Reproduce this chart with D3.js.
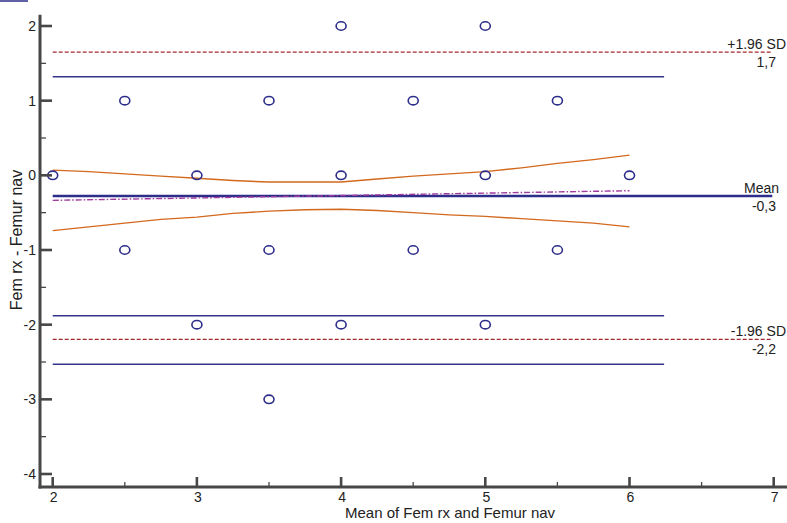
<!DOCTYPE html>
<html>
<head>
<meta charset="utf-8">
<script src="https://cdn.jsdelivr.net/npm/d3@7"></script>
<style>
  body { margin: 0; background: #fff; }
  text { font-family: "Liberation Sans", Arial, sans-serif; fill: #222; }
</style>
</head>
<body>
<div id="chart"></div>
<script>
// observations (mean of the two methods, difference)
const pointMeans = [2, 2.5, 2.5, 3, 3, 3.5, 3.5, 3.5, 4, 4, 4, 4.5, 4.5, 5, 5, 5, 5.5, 5.5, 6];
const pointDiffs = [0, 1, -1, 0, -2, 1, -1, -3, 2, 0, -2, 1, -1, 2, 0, -2, 1, -1, 0];

// limits of agreement
const meanDiff = -0.277;
const upperLoA = 1.65;
const lowerLoA = -2.197;
const loaCI = [1.32, -1.88, -2.53];   // confidence limit lines
const limitLabels = ['+1.96 SD', 'Mean', '-1.96 SD'];
const limitValues = ['1,7', '-0,3', '-2,2'];

// regression of difference on mean
const regX = [2, 6];
const regY = [-0.335, -0.206];

// orange confidence band of the regression
const bandX = [2, 2.25, 2.5, 2.75, 3, 3.25, 3.5, 3.75, 4, 4.25, 4.5, 4.75, 5, 5.25, 5.5, 5.75, 6];
const bandUpper = [0.07, 0.05, 0.02, -0.01, -0.04, -0.07, -0.09, -0.09, -0.09, -0.05, -0.01, 0.02, 0.05, 0.10, 0.16, 0.21, 0.27];
const bandLower = [-0.74, -0.69, -0.64, -0.59, -0.56, -0.51, -0.48, -0.46, -0.455, -0.47, -0.50, -0.53, -0.55, -0.58, -0.61, -0.64, -0.69];

const xTicks = [2, 3, 4, 5, 6, 7];
const yTicks = [2, 1, 0, -1, -2, -3, -4];

const W = 787, H = 523;
const axisColor = '#474747';
const navy = '#2d2d8a';

const x = d3.scaleLinear().domain([2, 7]).range([52.7, 773.7]);
const y = d3.scaleLinear().domain([2, -4]).range([26, 474]);
const x0 = 40, yBase = 487;

const svg = d3.select('#chart').append('svg')
  .attr('width', W)
  .attr('height', H);

// stray legend stub at the top-left corner
svg.append('line')
  .attr('x1', 0).attr('x2', 28).attr('y1', 1).attr('y2', 1)
  .attr('stroke', navy).attr('stroke-width', 1.5);

// confidence limit lines
svg.selectAll('.ci')
  .data(loaCI)
  .enter()
  .append('line')
  .attr('class', 'ci')
  .attr('x1', x(2)).attr('x2', x(6.24))
  .attr('y1', d => y(d)).attr('y2', d => y(d))
  .attr('stroke', '#35358c')
  .attr('stroke-width', 1.5);

// +/- 1.96 SD
svg.selectAll('.loa')
  .data([upperLoA, lowerLoA])
  .enter()
  .append('line')
  .attr('class', 'loa')
  .attr('x1', x(2)).attr('x2', x(6.99))
  .attr('y1', d => y(d)).attr('y2', d => y(d))
  .attr('stroke', '#a3282c')
  .attr('stroke-width', 1.3)
  .attr('stroke-dasharray', '4,2');

// mean
svg.append('line')
  .attr('x1', x(2)).attr('x2', x(6.99))
  .attr('y1', y(meanDiff)).attr('y2', y(meanDiff))
  .attr('stroke', navy)
  .attr('stroke-width', 2.6);

// regression line
svg.append('line')
  .attr('x1', x(regX[0])).attr('x2', x(regX[1]))
  .attr('y1', y(regY[0])).attr('y2', y(regY[1]))
  .attr('stroke', '#a03a9e')
  .attr('stroke-width', 1.4)
  .attr('stroke-dasharray', '6,2,1.5,2');

// confidence band
const bandLine = d3.line()
  .x((d, i) => x(bandX[i]))
  .y(d => y(d));

[bandUpper, bandLower].forEach(s => {
  svg.append('path')
    .datum(s)
    .attr('d', bandLine)
    .attr('fill', 'none')
    .attr('stroke', '#d2691e')
    .attr('stroke-width', 1.4);
});

// points
svg.selectAll('.pt')
  .data(pointMeans)
  .enter()
  .append('ellipse')
  .attr('class', 'pt')
  .attr('cx', d => x(d))
  .attr('cy', (d, i) => y(pointDiffs[i]))
  .attr('rx', 5)
  .attr('ry', 4.2)
  .attr('fill', 'none')
  .attr('stroke', navy)
  .attr('stroke-width', 1.6);

// limit labels
const limitY = [upperLoA, meanDiff, lowerLoA];
svg.selectAll('.lbl')
  .data(limitLabels)
  .enter()
  .append('text')
  .attr('class', 'lbl')
  .attr('x', (d, i) => i == 1 ? 779 : 786)
  .attr('y', (d, i) => y(limitY[i]) - 3)
  .attr('text-anchor', 'end')
  .style('font-size', '14px')
  .text(d => d);

svg.selectAll('.val')
  .data(limitValues)
  .enter()
  .append('text')
  .attr('class', 'val')
  .attr('x', 776)
  .attr('y', (d, i) => y(limitY[i]) + 15)
  .attr('text-anchor', 'end')
  .style('font-size', '14px')
  .text(d => d);

// axes
const ax = svg.append('g');
ax.append('line')
  .attr('x1', x0).attr('x2', x0).attr('y1', y(2.15)).attr('y2', yBase + 1.5)
  .attr('stroke', axisColor).attr('stroke-width', 3);
ax.append('line')
  .attr('x1', x0 - 1.5).attr('x2', W).attr('y1', yBase).attr('y2', yBase)
  .attr('stroke', axisColor).attr('stroke-width', 3);

// y ticks: major and minor, pointing inward
ax.selectAll('.ymaj')
  .data(yTicks)
  .enter()
  .append('line')
  .attr('x1', x0).attr('x2', x0 + 12)
  .attr('y1', d => y(d)).attr('y2', d => y(d))
  .attr('stroke', axisColor).attr('stroke-width', 2.6);
ax.selectAll('.ymin')
  .data(yTicks.slice(1).map(d => d + 0.5))
  .enter()
  .append('line')
  .attr('x1', x0).attr('x2', x0 + 6)
  .attr('y1', d => y(d)).attr('y2', d => y(d))
  .attr('stroke', axisColor).attr('stroke-width', 1.3);
ax.selectAll('.ylab')
  .data(yTicks)
  .enter()
  .append('text')
  .attr('x', x0 - 4)
  .attr('y', d => y(d) + 5)
  .attr('text-anchor', 'end')
  .style('font-size', '14px')
  .text(d => d);

// x ticks
ax.selectAll('.xmaj')
  .data(xTicks)
  .enter()
  .append('line')
  .attr('x1', d => x(d)).attr('x2', d => x(d))
  .attr('y1', yBase).attr('y2', yBase - 10)
  .attr('stroke', axisColor).attr('stroke-width', 2.6);
ax.selectAll('.xmin')
  .data(xTicks.slice(0, -1).map(d => d + 0.5))
  .enter()
  .append('line')
  .attr('x1', d => x(d)).attr('x2', d => x(d))
  .attr('y1', yBase).attr('y2', yBase - 5)
  .attr('stroke', axisColor).attr('stroke-width', 1.3);
ax.selectAll('.xlab')
  .data(xTicks)
  .enter()
  .append('text')
  .attr('x', d => x(d) + 1)
  .attr('y', yBase + 15)
  .attr('text-anchor', 'middle')
  .style('font-size', '14px')
  .text(d => d);

// axis titles
svg.append('text')
  .attr('x', 345)
  .attr('y', 518)
  .style('font-size', '15px')
  .text('Mean of Fem rx and Femur nav');

svg.append('text')
  .attr('transform', 'translate(22,240) rotate(-90)')
  .attr('text-anchor', 'middle')
  .style('font-size', '16px')
  .text('Fem rx - Femur nav');
</script>
</body>
</html>
